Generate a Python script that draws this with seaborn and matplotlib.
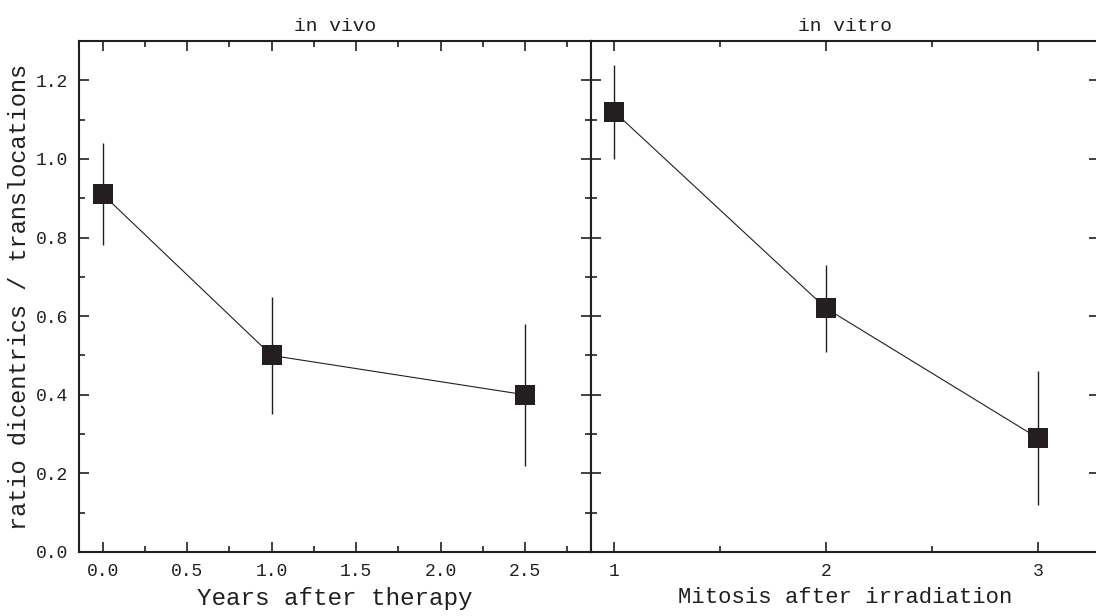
import seaborn as sns
import matplotlib.pyplot as plt
from matplotlib.ticker import MultipleLocator

# data
years = [0.0, 1.0, 2.5]
ratio_vivo = [0.91, 0.50, 0.40]
err_vivo = [0.13, 0.15, 0.18]

mitosis = [1, 2, 3]
ratio_vitro = [1.12, 0.62, 0.29]
err_vitro = [0.12, 0.11, 0.17]

sns.set_style('ticks')
plt.rcParams['font.family'] = ['Liberation Mono', 'DejaVu Sans']
plt.rcParams['axes.linewidth'] = 1.5

ink = '#231f20'

fig = plt.figure(figsize=(10.96, 6.16), dpi=100)
ax1 = fig.add_axes([0.0721, 0.1039, 0.4671, 0.8295])
ax2 = fig.add_axes([0.5392, 0.1039, 0.4638, 0.8295])


def panel(ax, x, y, err):
    ax.errorbar(x, y, yerr=err, fmt='none', ecolor=ink, elinewidth=1.0, capsize=0, zorder=2)
    sns.lineplot(x=x, y=y, ax=ax, color=ink, linewidth=0.8, marker='s', markersize=15,
                 markeredgewidth=0, markerfacecolor=ink, zorder=3)
    ax.set_ylim(0, 1.3)
    ax.yaxis.set_major_locator(MultipleLocator(0.2))
    ax.yaxis.set_minor_locator(MultipleLocator(0.1))
    ax.tick_params(which='both', direction='in', top=True, right=True, width=1.2,
                   labelsize=13, pad=8, colors=ink)
    ax.tick_params(which='major', length=7)
    ax.tick_params(which='minor', length=4)
    for s in ax.spines.values():
        s.set_color(ink)


panel(ax1, years, ratio_vivo, err_vivo)
ax1.set_xlim(-0.14, 2.89)
ax1.xaxis.set_major_locator(MultipleLocator(0.5))
ax1.xaxis.set_minor_locator(MultipleLocator(0.25))
ax1.set_xlabel('Years after therapy', fontsize=17.5, labelpad=5, color=ink)
ax1.set_ylabel('ratio dicentrics / translocations', fontsize=17, labelpad=3, color=ink)
ax1.set_title('in vivo', fontsize=14, pad=7, color=ink)

panel(ax2, mitosis, ratio_vitro, err_vitro)
ax2.set_xlim(0.89, 3.29)
ax2.xaxis.set_major_locator(MultipleLocator(1))
ax2.xaxis.set_minor_locator(MultipleLocator(0.5))
ax2.tick_params(axis='y', which='minor', right=False)
ax2.tick_params(labelleft=False)
ax2.set_xlabel('Mitosis after irradiation', fontsize=16, labelpad=5, color=ink)
ax2.set_ylabel('')
ax2.set_title('in vitro', fontsize=14, pad=7, color=ink)

fig.savefig('out.png', dpi=100)
